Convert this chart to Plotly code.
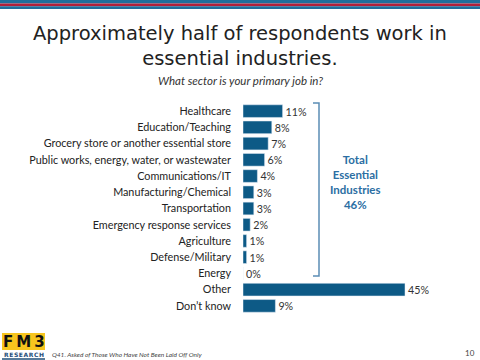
import plotly.graph_objects as go

categories = ["Healthcare", "Education/Teaching", "Grocery store or another essential store",
              "Public works, energy, water, or wastewater", "Communications/IT",
              "Manufacturing/Chemical", "Transportation", "Emergency response services",
              "Agriculture", "Defense/Military", "Energy", "Other", "Don\u2019t know"]
values = [11, 8, 7, 6, 4, 3, 3, 2, 1, 1, 0, 45, 9]
labels = [f"{v}%" for v in values]

W, H = 480, 360
L, R, T, B = 243, 39, 103, 46
PW, PH = W - L - R, H - T - B

def px(x):
    return (x - L) / PW

def py(y):
    return (H - B - y) / PH

BAR = "#0d5a86"
fig = go.Figure(go.Bar(
    y=categories, x=values, orientation="h", marker_color=BAR,
    text=labels, textposition="outside", cliponaxis=False,
    textfont=dict(family="Lato, sans-serif", size=11, color="#333333"),
    width=0.78, hoverinfo="skip",
))

shapes = []
# top stripes
for y0, y1, c in [(0, 3.5, "#1f6f9c"), (3.5, 6.2, "#b0203a"), (6.2, 9, "#1f6f9c")]:
    shapes.append(dict(type="rect", xref="paper", yref="paper", x0=px(0), x1=px(W),
                       y0=py(y1), y1=py(y0), fillcolor=c, line_width=0, layer="above"))
# bracket
bc = "#5b8db5"
shapes.append(dict(type="path", xref="paper", yref="paper",
                   path=f"M {px(313)} {py(103)} L {px(319)} {py(103)} L {px(319)} {py(276)} L {px(313)} {py(276)}",
                   line=dict(color=bc, width=1.5)))
# logo
shapes.append(dict(type="rect", xref="paper", yref="paper", x0=px(2), x1=px(45),
                   y0=py(350), y1=py(333), fillcolor="#f7c51e", line_width=0))
shapes.append(dict(type="line", xref="paper", yref="paper", x0=px(2), x1=px(45),
                   y0=py(359), y1=py(359), line=dict(color="#1f4e79", width=1.5)))

ann = [
    dict(text="Approximately half of respondents work in<br>essential industries.",
         x=px(240), y=py(46), xanchor="center", yanchor="middle",
         font=dict(family="DejaVu Sans, sans-serif", size=19.5, color="#222222")),
    dict(text="<i>What sector is your primary job in?</i>", x=px(240), y=py(80),
         xanchor="center", yanchor="middle",
         font=dict(family="Lato, sans-serif", size=11.5, color="#333333")),
    dict(text="<b>Total<br>Essential<br>Industries<br>46%</b>", x=px(355), y=py(182),
         xanchor="center", yanchor="middle",
         font=dict(family="Lato, sans-serif", size=11.5, color="#2b6ea3")),
    dict(text="<b>F\u2009M\u20093</b>", x=px(23.5), y=py(341.5), xanchor="center", yanchor="middle",
         font=dict(family="DejaVu Sans, sans-serif", size=15, color="#111111")),
    dict(text="<b>R\u200aE\u200aS\u200aE\u200aA\u200aR\u200aC\u200aH</b>", x=px(23.5), y=py(354.5),
         xanchor="center", yanchor="middle",
         font=dict(family="DejaVu Sans, sans-serif", size=6, color="#1f4e79")),
    dict(text="<i>Q41. Asked of Those Who Have Not Been Laid Off Only</i>", x=px(50), y=py(354),
         xanchor="left", yanchor="middle",
         font=dict(family="Lato, sans-serif", size=6.5, color="#444444")),
    dict(text="10", x=px(470), y=py(353), xanchor="center", yanchor="middle",
         font=dict(family="Lato, sans-serif", size=8, color="#444444")),
]
for a in ann:
    a.update(xref="paper", yref="paper", showarrow=False)

fig.update_layout(
    width=W, height=H, margin=dict(l=L, r=R, t=T, b=B, autoexpand=False),
    paper_bgcolor="white", plot_bgcolor="white", showlegend=False,
    xaxis=dict(range=[0, PW / 3.6], visible=False, showgrid=False, zeroline=False),
    yaxis=dict(autorange="reversed", showgrid=False, zeroline=False, showline=False,
               ticks="", ticklabelstandoff=11,
               tickfont=dict(family="Lato, sans-serif", size=10.8, color="#222222")),
    shapes=shapes, annotations=ann, bargap=0.2,
)
fig.write_html("out.html", config={"displayModeBar": False},
               post_script="document.body.style.margin='0';document.body.style.overflow='hidden';")
